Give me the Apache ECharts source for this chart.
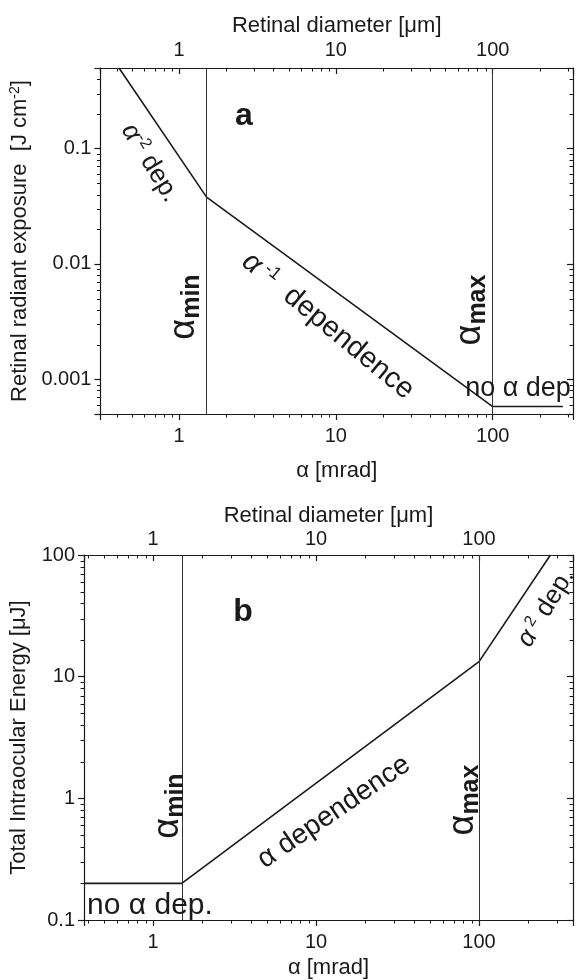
<!DOCTYPE html>
<html><head><meta charset="utf-8">
<script src="https://cdn.jsdelivr.net/npm/echarts@6/dist/echarts.min.js"></script>
<style>html,body{margin:0;padding:0;background:#fff}#c{width:576px;height:980px}</style>
</head><body><div id="c"></div>
<script>
// ---- data ----
const alphaTop = [0.415, 1.5, 100, 280];
const exposureTop = [0.5, 0.038, 0.00058, 0.00058];
const alphaBottom = [0.377, 1.5, 100, 274];
const energyBottom = [0.2, 0.2, 13.3, 100];
const alphaLimits = [1.5, 100];
const xTickValues = [1, 10, 100];
const xTickLabels = ['1', '10', '100'];
const yTopTickValues = [0.001, 0.01, 0.1];
const yTopTickLabels = ['0.001', '0.01', '0.1'];
const yBottomTickValues = [0.1, 1, 10, 100];
const yBottomTickLabels = ['0.1', '1', '10', '100'];
const topXRange = [0.316, 325];
const topYRange = [0.0005, 0.5];
const bottomXRange = [0.377, 377];
const bottomYRange = [0.1, 100];

const FONT = "'Liberation Sans', Arial, sans-serif";
const INK = '#1a1a1a';
const TICKFS = 20;
const NAMEFS = 22;

function fmt(values, labels) {
  return function (v) {
    for (let i = 0; i < values.length; i++) {
      if (Math.abs(Math.log10(v) - Math.log10(values[i])) < 1e-4) return labels[i];
    }
    return '';
  };
}
function minorTicks(range) {
  const out = [];
  const d0 = Math.floor(Math.log10(range[0])), d1 = Math.ceil(Math.log10(range[1]));
  for (let d = d0; d <= d1; d++) {
    for (let m = 2; m <= 9; m++) {
      const v = m * Math.pow(10, d);
      if (v > range[0] && v < range[1]) out.push(v);
    }
  }
  return out;
}
function tickData(xr, yr) {
  const data = [];
  minorTicks(xr).forEach(v => data.push([v, yr[0], 0]));
  minorTicks(yr).forEach(v => data.push([xr[0], v, 1]));
  return data;
}
const MINOR = 3.5;
function renderMinor(params, api) {
  const cs = params.coordSys;
  const p = api.coord([api.value(0), api.value(1)]);
  const kind = api.value(2);
  const st = { stroke: INK, lineWidth: 1 };
  if (kind === 0) {
    const x = Math.round(p[0]) + 0.5;
    return { type: 'group', children: [
      { type: 'line', shape: { x1: x, y1: cs.y + cs.height, x2: x, y2: cs.y + cs.height + MINOR }, style: st },
      { type: 'line', shape: { x1: x, y1: cs.y, x2: x, y2: cs.y + MINOR }, style: st }
    ]};
  } else {
    const y = Math.round(p[1]) + 0.5;
    return { type: 'group', children: [
      { type: 'line', shape: { x1: cs.x - MINOR, y1: y, x2: cs.x, y2: y }, style: st },
      { type: 'line', shape: { x1: cs.x + cs.width - MINOR, y1: y, x2: cs.x + cs.width, y2: y }, style: st }
    ]};
  }
}

function xAxisDef(grid, pos, range, name, nameGap, labelMargin, inside) {
  return {
    type: 'log', logBase: 10, gridIndex: grid, position: pos, min: range[0], max: range[1],
    name: name, nameLocation: 'middle', nameGap: nameGap,
    nameTextStyle: { fontFamily: FONT, fontSize: NAMEFS, color: INK },
    axisLine: { show: true, onZero: false, lineStyle: { color: INK, width: 1.2 } },
    axisTick: { show: true, inside: inside, length: 6, lineStyle: { color: INK, width: 1.2 } },
    minorTick: { show: false }, splitLine: { show: false }, minorSplitLine: { show: false },
    axisLabel: { show: true, margin: labelMargin, fontFamily: FONT, fontSize: TICKFS, color: INK,
      showMinLabel: true, showMaxLabel: true, formatter: fmt(xTickValues, xTickLabels) }
  };
}
function yAxisDef(grid, pos, range, name, nameGap, vals, labs, rich) {
  const left = pos === 'left';
  return {
    type: 'log', logBase: 10, gridIndex: grid, position: pos, min: range[0], max: range[1],
    name: left ? name : '', nameLocation: 'middle', nameGap: nameGap,
    nameTextStyle: { fontFamily: FONT, fontSize: NAMEFS, color: INK, rich: rich || {} },
    axisLine: { show: true, onZero: false, lineStyle: { color: INK, width: 1.2 } },
    axisTick: { show: true, inside: !left, length: 6, lineStyle: { color: INK, width: 1.2 } },
    minorTick: { show: false }, splitLine: { show: false }, minorSplitLine: { show: false },
    axisLabel: { show: left, margin: 9, fontFamily: FONT, fontSize: TICKFS, color: INK,
      showMinLabel: true, showMaxLabel: true, formatter: fmt(vals, labs) }
  };
}

const limitLine = () => ({
  silent: true, symbol: 'none', label: { show: false },
  lineStyle: { color: '#333', width: 1, type: 'solid' },
  data: alphaLimits.map(a => ({ xAxis: a }))
});

const chart = echarts.init(document.getElementById('c'), null, { renderer: 'canvas' });

function txt(x, y, text, size, rot, rich, weight) {
  return {
    type: 'text', x: x, y: y, rotation: rot || 0, z: 100,
    style: { text: text, fontFamily: FONT, fontSize: size, fontWeight: weight || 'normal', fill: INK,
      align: 'center', verticalAlign: 'middle', rich: rich || undefined }
  };
}
const richAlpha = {
  al: { fontFamily: FONT, fontSize: 36, fill: INK, color: INK },
  sub: { fontFamily: FONT, fontSize: 25, fontWeight: 'bold', fill: INK, color: INK, verticalAlign: 'bottom', padding: [16, 0, 0, 0] }
};
function richSup(fs) {
  return {
    it: { fontFamily: FONT, fontSize: fs, fontStyle: 'italic', color: INK },
    sup: { fontFamily: FONT, fontSize: Math.round(fs * 0.62), color: INK, verticalAlign: 'top', padding: [0, 0, Math.round(fs * 0.45), 0] },
    n: { fontFamily: FONT, fontSize: fs, color: INK }
  };
}

chart.setOption({
  animation: false,
  backgroundColor: '#fff',
  grid: [
    { left: 99, top: 68, width: 476, height: 346, containLabel: false },
    { left: 84, top: 555, width: 494, height: 366, containLabel: false }
  ],
  xAxis: [
    xAxisDef(0, 'bottom', topXRange, 'α [mrad]', 46, 12, false),
    xAxisDef(0, 'top', topXRange, 'Retinal diameter [μm]', 31, 8, true),
    xAxisDef(1, 'bottom', bottomXRange, 'α [mrad]', 37, 12, false),
    xAxisDef(1, 'top', bottomXRange, 'Retinal diameter [μm]', 28, 6, true)
  ],
  yAxis: [
    yAxisDef(0, 'left', topYRange, 'Retinal radiant exposure  [J cm{sup|-2}]', 66, yTopTickValues, yTopTickLabels,
      { sup: { fontFamily: FONT, fontSize: 14, color: INK, verticalAlign: 'top', padding: [0, 0, 9, 0] } }),
    yAxisDef(0, 'right', topYRange, '', 0, [], []),
    yAxisDef(1, 'left', bottomYRange, 'Total Intraocular Energy [μJ]', 54, yBottomTickValues, yBottomTickLabels),
    yAxisDef(1, 'right', bottomYRange, '', 0, [], [])
  ],
  series: [
    { type: 'line', xAxisIndex: 0, yAxisIndex: 0, data: alphaTop.map((a, i) => [a, exposureTop[i]]),
      showSymbol: false, symbol: 'none', clip: true, lineStyle: { color: INK, width: 1.6 }, markLine: limitLine() },
    { type: 'line', xAxisIndex: 2, yAxisIndex: 2, data: alphaBottom.map((a, i) => [a, energyBottom[i]]),
      showSymbol: false, symbol: 'none', clip: true, lineStyle: { color: INK, width: 1.6 }, markLine: limitLine() },
    { type: 'custom', xAxisIndex: 0, yAxisIndex: 0, data: tickData(topXRange, topYRange), renderItem: renderMinor, silent: true, clip: false },
    { type: 'custom', xAxisIndex: 2, yAxisIndex: 2, data: tickData(bottomXRange, bottomYRange), renderItem: renderMinor, silent: true, clip: false }
  ],
  graphic: [
    txt(244, 116, 'a', 32, 0, null, 'bold'),
    txt(150, 163, '{it|α}{sup|-2}{n| dep.}', 26, -1.02, richSup(26)),
    txt(184, 307, '{al|α}{sub|min}', 36, Math.PI / 2, richAlpha),
    txt(470, 310, '{al|α}{sub|max}', 36, Math.PI / 2, richAlpha),
    txt(328, 326, '{it|α}{sup| -1}{n|  dependence}', 29, -0.69, richSup(29)),
    txt(518, 389, 'no α dep', 27),
    txt(243, 612, 'b', 32, 0, null, 'bold'),
    txt(168, 806, '{al|α}{sub|min}', 36, Math.PI / 2, richAlpha),
    txt(463, 800, '{al|α}{sub|max}', 36, Math.PI / 2, richAlpha),
    txt(334, 812, 'α dependence', 28, 0.6),
    txt(546, 608, '{it|α}{sup| 2}{n| dep.}', 26, 1.02, richSup(26)),
    txt(150, 906, 'no α dep.', 30)
  ]
});
</script></body></html>
